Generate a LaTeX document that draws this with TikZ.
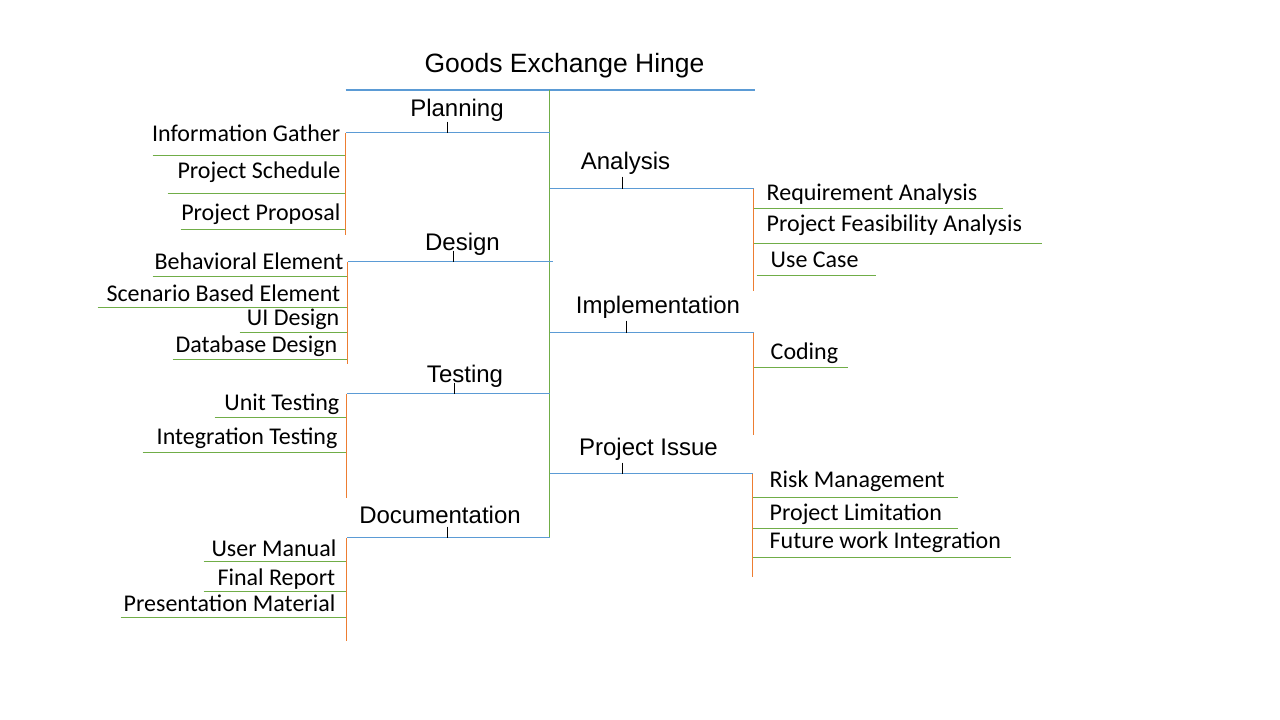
\documentclass[tikz,border=0pt]{standalone}
\usepackage{fontspec}
\setmainfont{Liberation Sans}
\newfontfamily\leaffont{Carlito}
\definecolor{obl}{HTML}{5B9BD5}
\definecolor{ogr}{HTML}{70AD47}
\definecolor{oor}{HTML}{ED7D31}
\tikzset{
  brline/.style={draw=obl, line width=1.5pt},
  mainline/.style={draw=ogr, line width=1.5pt},
  subline/.style={draw=oor, line width=1.5pt},
  ulline/.style={draw=ogr, line width=1.5pt},
  tickline/.style={draw=black, line width=1.8pt},
  leafL/.style={font=\leaffont\fontsize{24}{24}\selectfont, inner sep=0pt, anchor=base east},
  leafR/.style={font=\leaffont\fontsize{24}{24}\selectfont, inner sep=0pt, anchor=base west},
  brlabel/.style={font=\fontsize{24}{24}\selectfont, inner sep=0pt, anchor=base},
  titlelabel/.style={font=\fontsize{26.5}{26.5}\selectfont, inner sep=0pt, anchor=base},
}
\begin{document}
\begin{tikzpicture}[x=1pt,y=-1pt]
\useasboundingbox (0,0) rectangle (1280,720);
\begin{scope}[shift={(0.5,0.5)}]
% title
\node[titlelabel] (title) at (564,72) {Goods Exchange Hinge};
\coordinate (tl) at (345,89);
\coordinate (tr) at (754,89);
\coordinate (top) at (549,89);
\draw[brline, line width=2pt] (tl) -- (tr);
% main vertical
\coordinate (jP) at (549,132);
\coordinate (jD) at (552,261);
\coordinate (jT) at (549,393);
\coordinate (jC) at (549,537);
\coordinate (jA) at (549,188);
\coordinate (jI) at (549,332);
\coordinate (jR) at (549,473);
\draw[mainline] (top) -- (jC);

% ---------- Planning ----------
\coordinate (sP) at (345,132);
\coordinate (eP) at (345,234);
\draw[brline] (jP) -- (sP);
\node[brlabel] (lP) at (456.5,116) {Planning};
\coordinate (kP1) at (447,121); \coordinate (kP2) at (447,132);
\draw[tickline] (kP1) -- (kP2);
\node[leafL] (ig) at (340,141) {Information Gather};
\node[leafL] (ps) at (340,178) {Project Schedule};
\node[leafL] (pp) at (340,220) {Project Proposal};
\coordinate (ig1) at (152,155); \coordinate (ig2) at (345,155);
\coordinate (ps1) at (167,193); \coordinate (ps2) at (345,193);
\coordinate (pp1) at (180,229); \coordinate (pp2) at (345,229);
\draw[ulline] (ig1) -- (ig2);
\draw[ulline] (ps1) -- (ps2);
\draw[ulline] (pp1) -- (pp2);
\draw[subline] (sP) -- (eP);

% ---------- Design ----------
\coordinate (sD) at (347,261);
\coordinate (eD) at (347,363);
\draw[brline] (jD) -- (sD);
\node[brlabel] (lD) at (462,250) {Design};
\coordinate (kD1) at (453,250); \coordinate (kD2) at (453,261);
\draw[tickline] (kD1) -- (kD2);
\node[leafL] (be) at (343,269) {Behavioral Element};
\node[leafL] (sb) at (340,301) {Scenario Based Element};
\node[leafL] (ui) at (339,325) {UI Design};
\node[leafL] (db) at (337,352) {Database Design};
\coordinate (be1) at (152,276); \coordinate (be2) at (347,276);
\coordinate (sb1) at (97,307);  \coordinate (sb2) at (347,307);
\coordinate (ui1) at (239,332); \coordinate (ui2) at (347,332);
\coordinate (db1) at (172,359); \coordinate (db2) at (347,359);
\draw[ulline] (be1) -- (be2);
\draw[ulline] (sb1) -- (sb2);
\draw[ulline] (ui1) -- (ui2);
\draw[ulline] (db1) -- (db2);
\draw[subline] (sD) -- (eD);

% ---------- Testing ----------
\coordinate (sT) at (346,393);
\coordinate (eT) at (346,497);
\draw[brline] (jT) -- (sT);
\node[brlabel] (lT) at (464.5,381.5) {Testing};
\coordinate (kT1) at (454,382); \coordinate (kT2) at (454,393);
\draw[tickline] (kT1) -- (kT2);
\node[leafL] (ut) at (339,410) {Unit Testing};
\node[leafL] (it) at (337,444) {Integration Testing};
\coordinate (ut1) at (214,417); \coordinate (ut2) at (346,417);
\coordinate (it1) at (142,452); \coordinate (it2) at (346,452);
\draw[ulline] (ut1) -- (ut2);
\draw[ulline] (it1) -- (it2);
\draw[subline] (sT) -- (eT);

% ---------- Documentation ----------
\coordinate (sC) at (346,537);
\coordinate (eC) at (346,640);
\draw[brline] (jC) -- (sC);
\node[brlabel] (lC) at (439.5,523) {Documentation};
\coordinate (kC1) at (447,526); \coordinate (kC2) at (447,537);
\draw[tickline] (kC1) -- (kC2);
\node[leafL] (um) at (336,556) {User Manual};
\node[leafL] (fr) at (335,585) {Final Report};
\node[leafL] (pm) at (335,611) {Presentation Material};
\coordinate (um1) at (203,561); \coordinate (um2) at (346,561);
\coordinate (fr1) at (203,591); \coordinate (fr2) at (346,591);
\coordinate (pm1) at (120,617); \coordinate (pm2) at (346,617);
\draw[ulline] (um1) -- (um2);
\draw[ulline] (fr1) -- (fr2);
\draw[ulline] (pm1) -- (pm2);
\draw[subline] (sC) -- (eC);

% ---------- Analysis ----------
\coordinate (sA) at (753,188);
\coordinate (eA) at (753,290);
\draw[brline] (jA) -- (sA);
\node[brlabel] (lA) at (625,169) {Analysis};
\coordinate (kA1) at (622,176); \coordinate (kA2) at (622,188);
\draw[tickline] (kA1) -- (kA2);
\node[leafR] (ra) at (766,200) {Requirement Analysis};
\node[leafR] (pf) at (766,231) {Project Feasibility Analysis};
\node[leafR] (uc) at (770,267) {Use Case};
\coordinate (ra1) at (753,208); \coordinate (ra2) at (1002,208);
\coordinate (pf1) at (753,243); \coordinate (pf2) at (1041,243);
\coordinate (uc1) at (756,275); \coordinate (uc2) at (875,275);
\draw[ulline] (ra1) -- (ra2);
\draw[ulline] (pf1) -- (pf2);
\draw[ulline] (uc1) -- (uc2);
\draw[subline] (sA) -- (eA);

% ---------- Implementation ----------
\coordinate (sI) at (753,332);
\coordinate (eI) at (753,434);
\draw[brline] (jI) -- (sI);
\node[brlabel] (lI) at (657.5,313) {Implementation};
\coordinate (kI1) at (626,320); \coordinate (kI2) at (626,332);
\draw[tickline] (kI1) -- (kI2);
\node[leafR] (co) at (770,359) {Coding};
\coordinate (co1) at (753,367); \coordinate (co2) at (847,367);
\draw[ulline] (co1) -- (co2);
\draw[subline] (sI) -- (eI);

% ---------- Project Issue ----------
\coordinate (sR) at (752,473);
\coordinate (eR) at (752,576);
\draw[brline] (jR) -- (sR);
\node[brlabel] (lR) at (648,455) {Project Issue};
\coordinate (kR1) at (622,462); \coordinate (kR2) at (622,473);
\draw[tickline] (kR1) -- (kR2);
\node[leafR] (rm) at (769,487) {Risk Management};
\node[leafR] (pl) at (769,520) {Project Limitation};
\node[leafR] (fw) at (769,548) {Future work Integration};
\coordinate (rm1) at (752,497); \coordinate (rm2) at (957,497);
\coordinate (pl1) at (752,528); \coordinate (pl2) at (957,528);
\coordinate (fw1) at (752,557); \coordinate (fw2) at (1010,557);
\draw[ulline] (rm1) -- (rm2);
\draw[ulline] (pl1) -- (pl2);
\draw[ulline] (fw1) -- (fw2);
\draw[subline] (sR) -- (eR);
\end{scope}
\end{tikzpicture}
\end{document}
